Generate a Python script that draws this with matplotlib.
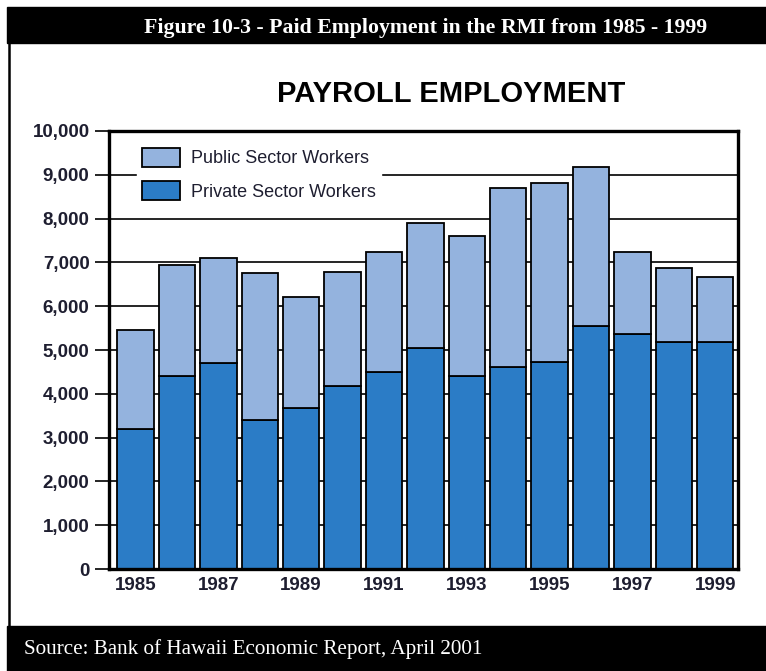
import numpy as np
import matplotlib
matplotlib.use('Agg')
import matplotlib.pyplot as plt
from matplotlib.patches import Rectangle
from matplotlib.lines import Line2D

# data
years = [1985, 1986, 1987, 1988, 1989, 1990, 1991, 1992,
         1993, 1994, 1995, 1996, 1997, 1998, 1999]
private = [3200, 4400, 4710, 3400, 3670, 4180, 4500, 5040,
           4400, 4620, 4720, 5550, 5370, 5190, 5190]
total = [5450, 6930, 7110, 6750, 6200, 6790, 7240, 7890,
         7610, 8710, 8810, 9170, 7240, 6880, 6660]
public = [t - p for t, p in zip(total, private)]
yticks = list(range(0, 10001, 1000))
year_labels = [str(y) if y % 2 == 1 else '' for y in years]

SANS = ['Liberation Sans', 'DejaVu Sans']
SERIF = ['Liberation Serif', 'DejaVu Serif']
C_PUBLIC = '#94b3de'
C_PRIVATE = '#2b7cc6'
TXT = '#1e1e30'

fig = plt.figure(figsize=(7.66, 6.71), dpi=100)
W, H = 766, 671

def fx(px):
    return px / W

def fy(py):
    return 1 - py / H

# header / footer bars and left border
fig.patches.append(Rectangle((fx(7), fy(43)), 1 - fx(7), fy(7) - fy(43),
                             transform=fig.transFigure, color='black', zorder=0))
fig.patches.append(Rectangle((fx(7), 0), 1 - fx(7), fy(626),
                             transform=fig.transFigure, color='black', zorder=0))
fig.lines.append(Line2D([fx(8.5), fx(8.5)], [fy(626), fy(43)], transform=fig.transFigure,
                        color='black', lw=1.8))

fig.text(fx(426), fy(28), 'Figure 10-3 - Paid Employment in the RMI from 1985 - 1999',
         color='white', ha='center', va='center', fontsize=15.7, fontweight='bold',
         family=SERIF)
fig.text(fx(24), fy(649), 'Source: Bank of Hawaii Economic Report, April 2001',
         color='white', ha='left', va='center', fontsize=15.2, family=SERIF)
fig.text(fx(451), fy(94), 'PAYROLL EMPLOYMENT', color='black', ha='center',
         va='center', fontsize=21, fontweight='bold', family=SANS)

ax = fig.add_axes([fx(109), fy(569), fx(738) - fx(109), fy(131) - fy(569)])
x = np.arange(len(years))
ax.bar(x, private, width=0.88, color=C_PRIVATE, edgecolor='black', linewidth=1.3,
       zorder=3, label='Private Sector Workers')
ax.bar(x, public, bottom=private, width=0.88, color=C_PUBLIC, edgecolor='black',
       linewidth=1.3, zorder=3, label='Public Sector Workers')

ax.set_xlim(-0.64, 14.55)
ax.set_ylim(0, 10000)
ax.set_yticks(yticks)
ax.set_yticklabels([f'{v:,}' for v in yticks])
ax.set_xticks(x)
ax.set_xticklabels(year_labels)
ax.grid(axis='y', color='black', linewidth=1.2, zorder=0)
ax.set_axisbelow(True)
ax.tick_params(axis='y', length=10, width=1.2, pad=4, labelsize=13.5, colors='black',
               labelcolor=TXT)
ax.tick_params(axis='x', length=0, pad=6, labelsize=13.5, labelcolor=TXT)
for lab in ax.get_xticklabels() + ax.get_yticklabels():
    lab.set_family(SANS)
    lab.set_fontweight('bold')
for s in ax.spines.values():
    s.set_linewidth(2.4)
    s.set_zorder(5)

handles, labels = ax.get_legend_handles_labels()
leg = ax.legend(handles[::-1], labels[::-1], loc='upper left',
                bbox_to_anchor=(0.03, 0.995), frameon=True, fancybox=False,
                edgecolor='white', framealpha=1,
                handlelength=2.1, handleheight=1.25, labelspacing=0.78,
                borderpad=0.3, handletextpad=0.6,
                prop={'family': SANS, 'size': 13})
for t in leg.get_texts():
    t.set_color(TXT)
leg.set_zorder(4)

fig.savefig('out.png', dpi=100)
